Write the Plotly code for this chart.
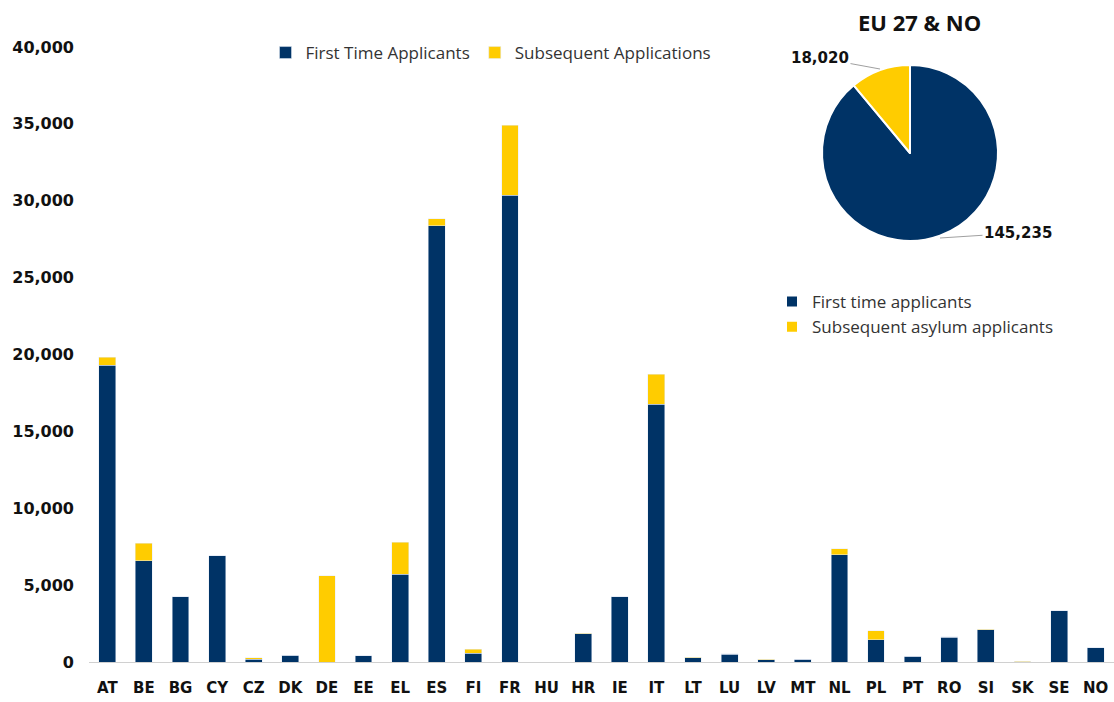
import plotly.graph_objects as go

countries = ["AT", "BE", "BG", "CY", "CZ", "DK", "DE", "EE", "EL", "ES", "FI", "FR", "HU", "HR",
             "IE", "IT", "LT", "LU", "LV", "MT", "NL", "PL", "PT", "RO", "SI", "SK", "SE", "NO"]
first_time = [19300, 6570, 4230, 6900, 190, 450, 0, 420, 5720, 28360, 580, 30370, 0, 1840,
              4230, 16780, 290, 500, 150, 170, 6960, 1460, 370, 1600, 2100, 20, 3330, 920]
subsequent = [520, 1170, 30, 0, 90, 0, 5600, 0, 2080, 460, 240, 4550, 0, 30,
              0, 1950, 20, 30, 30, 20, 390, 570, 0, 30, 20, 30, 0, 20]

pie_labels = ["First time applicants", "Subsequent asylum applicants"]
pie_values = [145235, 18020]

NAVY = "#003366"
YELLOW = "#FFCC00"
FONT = "Open Sans"
BOLD_FONT = "DejaVu Sans"

W, H = 1114, 702
ML, MR, MT, MB = 89, 0, 47, 40
PW, PH = W - ML - MR, H - MT - MB


def px(x):
    return (x - ML) / PW


def py(y):
    return (H - MB - y) / PH


fig = go.Figure()
fig.add_trace(go.Bar(x=countries, y=first_time, name="First Time Applicants",
                     marker=dict(color=NAVY), legend="legend"))
fig.add_trace(go.Bar(x=countries, y=subsequent, name="Subsequent Applications",
                     marker=dict(color=YELLOW), legend="legend"))

fig.add_trace(go.Pie(labels=pie_labels, values=pie_values, sort=False,
                     direction="clockwise", rotation=0,
                     marker=dict(colors=[NAVY, YELLOW], line=dict(color="white", width=2)),
                     textinfo="none", hoverinfo="label+value",
                     domain=dict(x=[px(822), px(998)], y=[py(241), py(65)]),
                     legend="legend2"))

fig.update_layout(
    width=W, height=H,
    margin=dict(l=ML, r=MR, t=MT, b=MB),
    barmode="stack", bargap=0.54,
    plot_bgcolor="white", paper_bgcolor="white",
    font=dict(family=FONT, color="#222222"),
    legend=dict(orientation="h", x=px(491), xanchor="center", y=py(53), yanchor="middle",
                font=dict(size=17, family=FONT, color="#333333"), traceorder="normal",
                bgcolor="rgba(0,0,0,0)"),
    legend2=dict(orientation="v", x=px(772), xanchor="left", y=py(284), yanchor="top",
                 font=dict(size=17, family=FONT, color="#333333"),
                 bgcolor="rgba(0,0,0,0)"),
    xaxis=dict(showgrid=False, showline=True, linecolor="#d0d0d0", linewidth=1,
               tickfont=dict(size=15, family=BOLD_FONT, color="#111111", weight="bold"),
               ticks="", ticklabelstandoff=12),
    yaxis=dict(range=[0, 40000], dtick=5000, tickformat=",", showgrid=False, zeroline=False,
               tickfont=dict(size=16, family=BOLD_FONT, color="#111111", weight="bold"),
               ticks="", ticklabelstandoff=14),
)

fig.add_annotation(x=px(919), y=py(22), xref="paper", yref="paper",
                   xanchor="center", yanchor="middle",
                   text="<b>EU 27 &amp; NO</b>", showarrow=False,
                   font=dict(size=22, family=FONT, color="#111111"))
fig.add_annotation(x=px(880), y=py(69), xref="paper", yref="paper",
                   text=f"<b>{pie_values[1]:,}</b>", showarrow=True, arrowhead=0,
                   arrowcolor="#a0a0a0", arrowwidth=1, ax=-60, ay=-11,
                   font=dict(size=15, family=BOLD_FONT, color="#111111"))
fig.add_annotation(x=px(940), y=py(238), xref="paper", yref="paper",
                   text=f"<b>{pie_values[0]:,}</b>", showarrow=True, arrowhead=0,
                   arrowcolor="#a0a0a0", arrowwidth=1, ax=78, ay=-5,
                   font=dict(size=15, family=BOLD_FONT, color="#111111"))

fig.write_html("out.html", config={"displayModeBar": False},
               post_script="document.body.style.margin='0';")
